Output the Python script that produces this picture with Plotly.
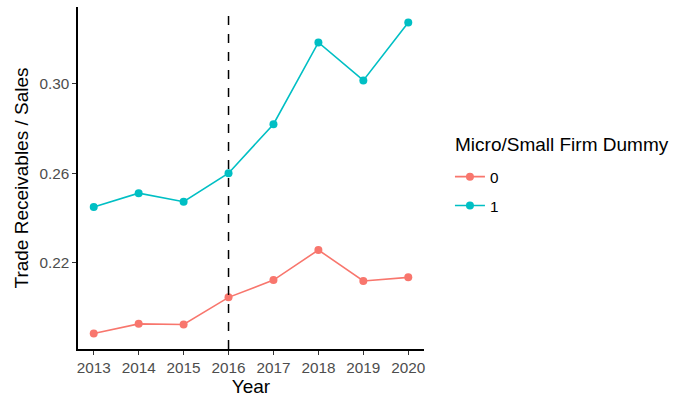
import plotly.graph_objects as go

# Mean trade receivables over sales by year, split by micro/small firm dummy
years = [2013, 2014, 2015, 2016, 2017, 2018, 2019, 2020]
ratio_dummy_0 = [0.1886, 0.1929, 0.1926, 0.2047, 0.2124, 0.2258, 0.2120, 0.2136]
ratio_dummy_1 = [0.2449, 0.2511, 0.2473, 0.2600, 0.2818, 0.3182, 0.3013, 0.3271]
series_names = ["0", "1"]
series_colors = ["#F8766D", "#00BFC4"]
y_ticks = [0.22, 0.26, 0.30]
policy_year = 2016
legend_title = "Micro/Small Firm Dummy"

fig = go.Figure()
for name, vals, col in zip(series_names, [ratio_dummy_0, ratio_dummy_1], series_colors):
    fig.add_trace(go.Scatter(
        x=years, y=vals, name=name, legendgroup=name, mode="lines+markers",
        line=dict(color=col, width=1.6),
        marker=dict(color=col, size=8),
    ))

fig.add_shape(type="line", x0=policy_year, x1=policy_year, xref="x",
              y0=0, y1=1, yref="paper",
              line=dict(color="black", width=1.5, dash="dash"))

# legend heading placed as its own text block above the legend keys
fig.add_annotation(text=legend_title, xref="paper", yref="paper",
                   x=1.084, y=0.5965, xanchor="left", yanchor="middle",
                   showarrow=False, font=dict(size=19, color="black"))

fig.update_layout(
    width=673, height=398,
    margin=dict(l=78, r=249, t=7, b=49),
    plot_bgcolor="white", paper_bgcolor="white",
    font=dict(family="Liberation Sans, Arial, sans-serif", color="black"),
    legend=dict(
        font=dict(size=15.3, color="black"),
        x=1.075, xanchor="left", y=0.552, yanchor="top",
        traceorder="grouped", tracegroupgap=6,
        bgcolor="rgba(0,0,0,0)",
    ),
    xaxis=dict(
        range=[2012.65, 2020.35], tickvals=years,
        ticktext=[str(y) for y in years],
        showgrid=False, zeroline=False,
        showline=True, linecolor="black", linewidth=1.5,
        ticks="outside", ticklen=4, tickcolor="#333333", tickwidth=1.2,
        tickfont=dict(size=15.3, color="#4D4D4D"),
        title=dict(text="Year", font=dict(size=19, color="black"), standoff=2),
    ),
    yaxis=dict(
        range=[0.1817, 0.3340], tickvals=y_ticks,
        ticktext=[f"{v:.2f}" for v in y_ticks],
        showgrid=False, zeroline=False,
        showline=True, linecolor="black", linewidth=1.5,
        ticks="outside", ticklen=4, tickcolor="#333333", tickwidth=1.2,
        tickfont=dict(size=15.3, color="#4D4D4D"),
        title=dict(text="Trade Receivables / Sales", font=dict(size=19, color="black"), standoff=6),
    ),
)

fig.write_html("out.html")
